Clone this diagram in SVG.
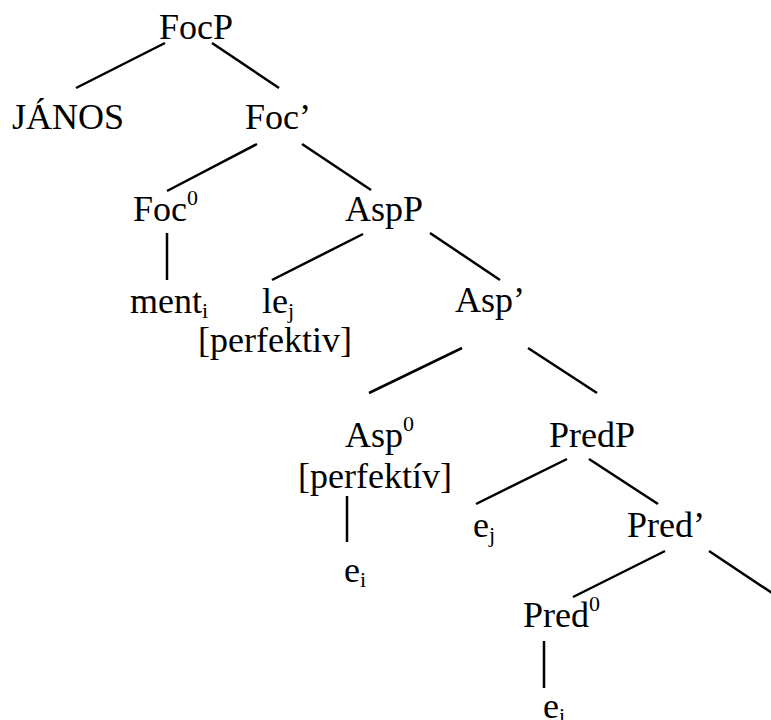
<svg xmlns="http://www.w3.org/2000/svg" width="771" height="720" viewBox="0 0 771 720">
<style>
text{font-family:"Liberation Serif","Times New Roman",serif;font-size:36px;fill:#000}
.s{font-size:22px}
line{stroke:#000;stroke-width:2.5;stroke-linecap:butt}
</style>
<rect width="771" height="720" fill="#fff"/>
<g id="connectors">
<line x1="165" y1="43" x2="76" y2="88"/>
<line x1="212" y1="43" x2="279" y2="88"/>
<line x1="257" y1="144" x2="167" y2="191"/>
<line x1="302" y1="144" x2="371" y2="190"/>
<line x1="167" y1="233" x2="167" y2="280"/>
<line x1="363" y1="234" x2="272" y2="280"/>
<line x1="430" y1="233" x2="500" y2="280"/>
<line x1="462" y1="348" x2="369" y2="393"/>
<line x1="528" y1="348" x2="597" y2="393"/>
<line x1="347" y1="496" x2="347" y2="542"/>
<line x1="567" y1="459" x2="476" y2="504"/>
<line x1="589" y1="459" x2="658" y2="504"/>
<line x1="665" y1="551" x2="573" y2="597"/>
<line x1="709" y1="551" x2="775" y2="595"/>
<line x1="544" y1="641" x2="544" y2="688"/>
</g>
<g id="focp"><text x="159" y="39">FocP</text></g>
<g id="janos"><text x="12" y="129">JÁNOS</text></g>
<g id="focbar"><text x="245" y="129">Foc’</text></g>
<g id="foc0"><text x="133" y="221">Foc<tspan class="s" dy="-16">0</tspan></text></g>
<g id="aspp"><text x="345" y="221">AspP</text></g>
<g id="ment"><text x="130" y="313">ment<tspan class="s" dy="5">i</tspan></text></g>
<g id="le"><text x="262" y="313">le<tspan class="s" dy="5">j</tspan></text><text x="198" y="352">[perfektiv]</text></g>
<g id="aspbar"><text x="455" y="312">Asp’</text></g>
<g id="asp0"><text x="345" y="447">Asp<tspan class="s" dy="-16">0</tspan></text><text x="298" y="488">[perfektív]</text></g>
<g id="ei1"><text x="344" y="582">e<tspan class="s" dy="5">i</tspan></text></g>
<g id="predp"><text x="549" y="447">PredP</text></g>
<g id="ej"><text x="473" y="537">e<tspan class="s" dy="5">j</tspan></text></g>
<g id="predbar"><text x="627" y="537">Pred’</text></g>
<g id="pred0"><text x="523" y="627">Pred<tspan class="s" dy="-16">0</tspan></text></g>
<g id="ei2"><text x="543" y="718">e<tspan class="s" dy="5">i</tspan></text></g>
</svg>
